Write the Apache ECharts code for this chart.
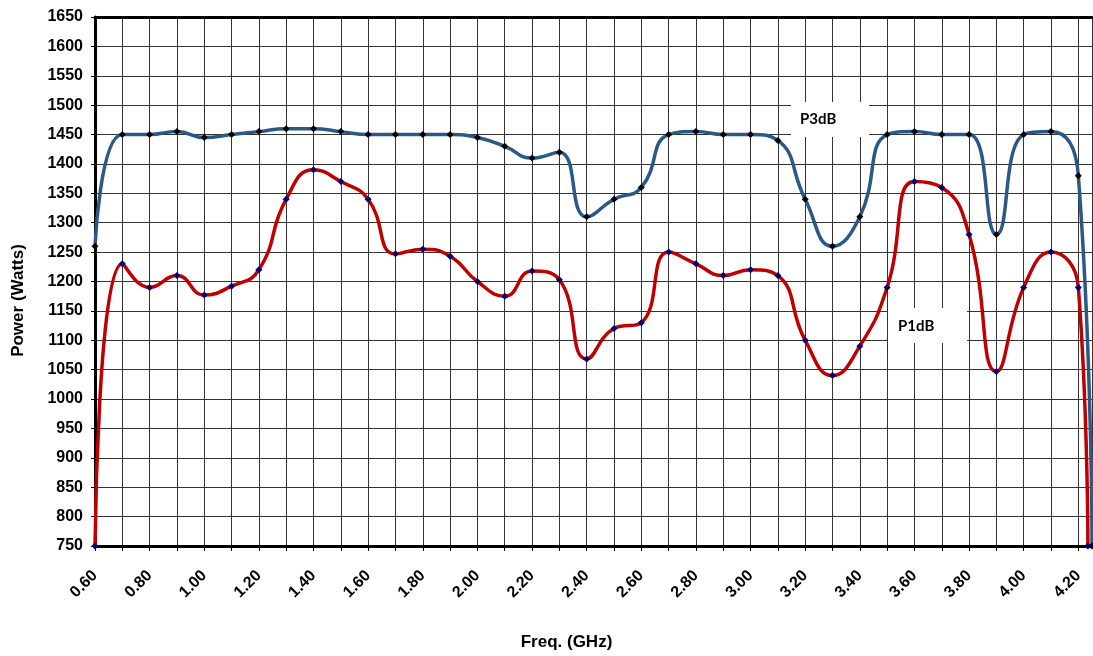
<!DOCTYPE html>
<html>
<head>
<meta charset="utf-8">
<script src="https://cdn.jsdelivr.net/npm/echarts@6/dist/echarts.min.js"></script>
<style>html,body{margin:0;padding:0;background:#fff;overflow:hidden;}#c{width:1093px;height:656px;}</style>
</head>
<body>
<div id="c"></div>
<script>
// Frequencies (GHz)
const freqP3 = [0.6,0.7,0.8,0.9,1.0,1.1,1.2,1.3,1.4,1.5,1.6,1.7,1.8,1.9,2.0,2.1,2.2,2.3,2.4,2.5,2.6,2.7,2.8,2.9,3.0,3.1,3.2,3.3,3.4,3.5,3.6,3.7,3.8,3.9,4.0,4.1,4.2,4.25];
const p3dB   = [1260,1450,1450,1455,1445,1450,1455,1460,1460,1455,1450,1450,1450,1450,1445,1430,1410,1420,1310,1340,1360,1450,1455,1450,1450,1440,1340,1260,1310,1450,1455,1450,1450,1280,1450,1455,1380,750];
const freqP1 = [0.6,0.7,0.8,0.9,1.0,1.1,1.2,1.3,1.4,1.5,1.6,1.7,1.8,1.9,2.0,2.1,2.2,2.3,2.4,2.5,2.6,2.7,2.8,2.9,3.0,3.1,3.2,3.3,3.4,3.5,3.6,3.7,3.8,3.9,4.0,4.1,4.2,4.235];
const p1dB   = [750,1230,1190,1210,1177,1192,1220,1340,1390,1370,1340,1247,1255,1243,1200,1175,1218,1203,1068,1120,1130,1250,1230,1210,1220,1210,1100,1040,1090,1190,1370,1360,1280,1047,1190,1250,1190,750];
const yMin = 750, yMax = 1650, yStep = 50;
const xMin = 0.6, xMax = 4.25, xStep = 0.1;

const chart = echarts.init(document.getElementById('c'), null, {renderer: 'canvas'});
const font = 'Liberation Sans, Arial, sans-serif';
const pair = (xs, ys) => xs.map((x, i) => [x, ys[i]]);

chart.setOption({
  animation: false,
  backgroundColor: '#fff',
  grid: {left: 95, top: 17, right: 1, bottom: 104, containLabel: false},
  xAxis: [{
    type: 'value', min: xMin, max: xMax, interval: xStep,
    name: 'Freq. (GHz)', nameLocation: 'middle', nameGap: 88,
    nameTextStyle: {fontFamily: font, fontWeight: 'bold', fontSize: 17, color: '#000', padding: [0, 54, 0, 0]},
    axisLine: {show: true, onZero: false, lineStyle: {color: '#000', width: 3}},
    axisTick: {show: true, length: 5, lineStyle: {color: '#000', width: 1}},
    splitLine: {show: true, lineStyle: {color: '#333', width: 1}},
    axisLabel: {
      rotate: 45, margin: 27, fontFamily: font, fontWeight: 'bold', fontSize: 16, color: '#000',
      showMaxLabel: false,
      formatter: v => { const k = Math.round(v * 10); return (k % 2 === 0) ? (k / 10).toFixed(2) : ''; }
    }
  }, {
    type: 'value', min: xMin, max: xMax, position: 'top',
    axisLine: {show: true, lineStyle: {color: '#000', width: 3}},
    axisTick: {show: false}, axisLabel: {show: false}, splitLine: {show: false}
  }],
  yAxis: {
    type: 'value', min: yMin, max: yMax, interval: yStep,
    name: 'Power (Watts)', nameLocation: 'middle', nameGap: 68,
    nameTextStyle: {fontFamily: font, fontWeight: 'bold', fontSize: 17, color: '#000', padding: [0, 38, 0, 0]},
    axisLine: {show: true, lineStyle: {color: '#000', width: 3}},
    axisTick: {show: true, length: 4, lineStyle: {color: '#000'}},
    splitLine: {show: true, lineStyle: {color: '#333', width: 1}},
    axisLabel: {fontFamily: font, fontWeight: 'bold', fontSize: 16, color: '#000', margin: 12,
      formatter: v => String(v)}
  },
  series: [{
    name: 'P3dB', type: 'line', xAxisIndex: 0, data: pair(freqP3, p3dB), smooth: 0.5,
    lineStyle: {color: '#2B5987', width: 3.5},
    symbol: 'diamond', symbolSize: 7, itemStyle: {color: '#000'}, z: 3
  }, {
    name: 'P1dB', type: 'line', xAxisIndex: 0, data: pair(freqP1, p1dB), smooth: 0.5,
    lineStyle: {color: '#C00000', width: 3.5},
    symbol: 'diamond', symbolSize: 7, itemStyle: {color: '#000070'}, z: 3
  }],
  graphic: [
    {type: 'rect', shape: {x: 791, y: 102, width: 78, height: 35}, style: {fill: '#fff'}, z: 2},
    {type: 'text', x: 800, y: 119, style: {text: 'P3dB', font: 'bold 15px Lato, "Open Sans", sans-serif', fill: '#000', textVerticalAlign: 'middle'}, z: 2},
    {type: 'rect', shape: {x: 888, y: 308, width: 79, height: 35}, style: {fill: '#fff'}, z: 2},
    {type: 'text', x: 898, y: 326, style: {text: 'P1dB', font: 'bold 15px Lato, "Open Sans", sans-serif', fill: '#000', textVerticalAlign: 'middle'}, z: 2}
  ]
});
</script>
</body>
</html>
